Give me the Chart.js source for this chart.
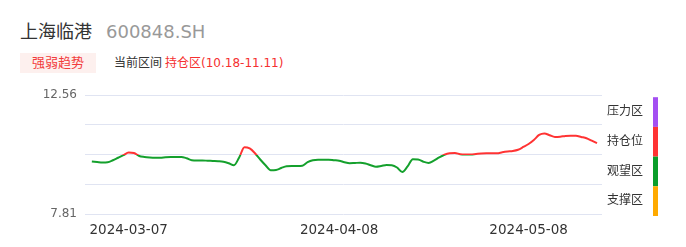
<!DOCTYPE html>
<html>
<head>
<meta charset="utf-8">
<script src="https://cdn.jsdelivr.net/npm/chart.js@4"></script>
<style>
  body { margin: 0; background: #fff; font-family: "DejaVu Sans", "Noto Sans CJK SC", sans-serif; }
  #wrap { position: relative; width: 686px; height: 247px; overflow: hidden; }
  .title { position: absolute; left: 20px; top: 17px; font-size: 18px; color: #333; white-space: nowrap; }
  .title .code { color: #999; margin-left: 14px; }
  .badge { position: absolute; left: 20px; top: 53px; width: 76px; height: 20px; background: #fdf0ee;
           color: #f23c3c; font-size: 13px; line-height: 20px; text-align: center; }
  .range { position: absolute; left: 114px; top: 53px; font-size: 12px; line-height: 20px; color: #333; white-space: nowrap; }
  .range span { color: #f53030; margin-left: 3px; }
  #box { position: absolute; left: 0; top: 80px; width: 686px; height: 167px; }
</style>
</head>
<body>
<div id="wrap">
  <div class="title">上海临港<span class="code">600848.SH</span></div>
  <div class="badge">强弱趋势</div>
  <div class="range">当前区间<span>持仓区(10.18-11.11)</span></div>
  <div id="box"><canvas id="myChart"></canvas></div>
</div>
<script>
// price series
var prices = [
    9.91, 9.89, 9.87, 9.88, 9.96, 10.06, 10.16, 10.27, 10.25, 10.13,
    10.09, 10.07, 10.06, 10.06, 10.08, 10.09, 10.09, 10.09, 10.04, 9.96,
    9.95, 9.95, 9.94, 9.93, 9.92, 9.90, 9.84, 9.76, 10.07, 10.48,
    10.43, 10.24, 9.99, 9.76, 9.56, 9.57, 9.65, 9.72, 9.73, 9.73,
    9.74, 9.88, 9.96, 9.98, 9.98, 9.98, 9.96, 9.94, 9.88, 9.84,
    9.85, 9.86, 9.83, 9.76, 9.70, 9.73, 9.77, 9.76, 9.67, 9.49,
    9.71, 10.00, 9.99, 9.90, 9.85, 9.94, 10.07, 10.18, 10.24, 10.25,
    10.20, 10.19, 10.19, 10.21, 10.23, 10.24, 10.24, 10.24, 10.28, 10.31,
    10.33, 10.38, 10.49, 10.61, 10.77, 10.97, 11.03, 10.96, 10.89, 10.90,
    10.93, 10.94, 10.94, 10.89, 10.84, 10.74, 10.64
];
var tickIndex = [7, 47, 83];
var tickLabels = ['2024-03-07', '2024-04-08', '2024-05-08'];
var yTicks = [7.81, 8.9975, 10.185, 11.3725, 12.56];

// zones, top to bottom
var zoneNames = ['压力区', '持仓位', '观望区', '支撑区'];
var zoneColors = ['#a44ff2', '#ff3333', '#0a9e2a', '#ffaa00'];
var zoneHigh = [12.56, 11.3725, 10.185, 8.9975];
var zoneLow = [11.3725, 10.185, 8.9975, 7.81];

var lineColor = function (context) {
    var chart = context.chart;
    var area = chart.chartArea;
    if (!area) return '#0a9e2a';
    var y = chart.scales.y;
    var g = chart.ctx.createLinearGradient(0, area.top, 0, area.bottom);
    var h = area.bottom - area.top;
    for (var i = 0; i < zoneNames.length; i++) {
        var c = zoneColors[i] === '#0a9e2a' ? '#14a02c' : zoneColors[i];
        var a = (y.getPixelForValue(zoneHigh[i]) - area.top) / h;
        var b = (y.getPixelForValue(zoneLow[i]) - area.top) / h;
        g.addColorStop(Math.max(0, Math.min(1, a)), c);
        g.addColorStop(Math.max(0, Math.min(1, b)), c);
    }
    return g;
};

var zonePlugin = {
    id: 'zones',
    afterDraw: function (chart) {
        var ctx = chart.ctx;
        var y = chart.scales.y;
        var right = chart.chartArea.right;
        ctx.save();
        ctx.font = '12px "DejaVu Sans", "Noto Sans CJK SC", sans-serif';
        ctx.textAlign = 'center';
        ctx.textBaseline = 'middle';
        for (var i = 0; i < zoneNames.length; i++) {
            var top = y.getPixelForValue(zoneHigh[i]) + 2;
            var bot = y.getPixelForValue(zoneLow[i]) + 2;
            ctx.fillStyle = zoneColors[i];
            ctx.fillRect(right + 51, top, 5, bot - top);
            ctx.fillStyle = '#333';
            ctx.fillText(zoneNames[i], right + 23, (top + bot) / 2);
        }
        ctx.restore();
    }
};

window.onload = function () {
    var ctx = document.getElementById('myChart').getContext('2d');
    var config = {
        type: 'line',
        data: {
            datasets: [{
                data: prices.map(function (v, i) { return { x: i, y: v }; }),
                borderColor: lineColor,
                borderWidth: 2,
                pointRadius: 0,
                cubicInterpolationMode: 'monotone',
                fill: false
            }]
        },
        options: {
            responsive: true,
            maintainAspectRatio: false,
            animation: false,
            layout: { padding: { top: 14, right: 84, left: 0, bottom: 0 } },
            plugins: {
                legend: { display: false },
                tooltip: { enabled: false }
            },
            scales: {
                x: {
                    type: 'linear',
                    min: -1.3,
                    max: prices.length - 0.05,
                    grid: { display: false },
                    border: { display: false },
                    afterBuildTicks: function (s) {
                        s.ticks = tickIndex.map(function (v) { return { value: v }; });
                    },
                    afterFit: function (s) { s.height = 33; },
                    ticks: {
                        autoSkip: false,
                        maxRotation: 0,
                        padding: 0,
                        color: '#333',
                        font: { family: 'DejaVu Sans', size: 13.5 },
                        callback: function (v) {
                            var k = tickIndex.indexOf(v);
                            return k < 0 ? '' : tickLabels[k];
                        }
                    }
                },
                y: {
                    min: yTicks[0],
                    max: yTicks[yTicks.length - 1],
                    grid: { color: '#e0e4f2', drawTicks: false },
                    border: { display: false },
                    afterBuildTicks: function (s) {
                        s.ticks = yTicks.map(function (v) { return { value: v }; });
                    },
                    afterFit: function (s) { s.width = 85; },
                    ticks: {
                        padding: 8,
                        color: '#666',
                        font: { family: 'DejaVu Sans', size: 12 },
                        callback: function (v) {
                            if (v === yTicks[0] || v === yTicks[yTicks.length - 1]) return v.toFixed(2);
                            return '';
                        }
                    }
                }
            }
        },
        plugins: [zonePlugin]
    };
    window.myLine = new Chart(ctx, config);
};
</script>
</body>
</html>
